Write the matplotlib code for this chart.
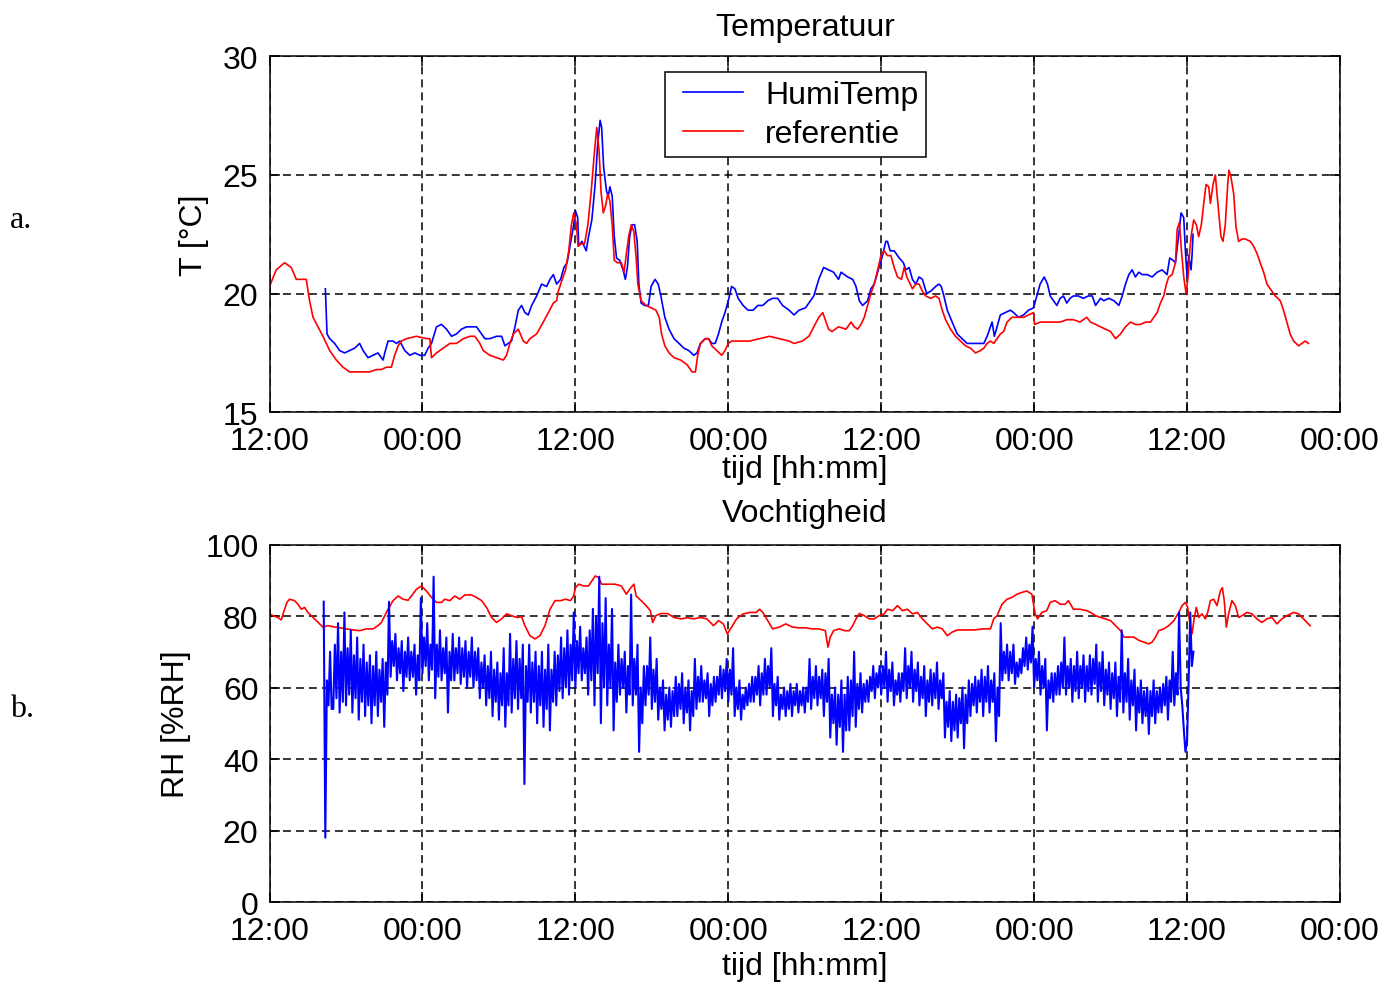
import numpy as np
import matplotlib
matplotlib.use("Agg")
import matplotlib.pyplot as plt
from matplotlib.legend_handler import HandlerLine2D

plt.rcParams['font.family'] = ['Liberation Sans', 'DejaVu Sans']

# time axis in hours since the first 12:00
tick_hours = [0, 12, 24, 36, 48, 60, 72, 84]
tick_labels = ['12:00', '00:00', '12:00', '00:00', '12:00', '00:00', '12:00', '00:00']
series_names = ['HumiTemp', 'referentie']

# reference temperature [degC]
ref_temp_t = [0.00, 0.52, 1.18, 1.70, 2.10, 2.62, 2.88, 3.14, 3.41, 3.80, 4.19, 4.72, 5.24, 5.76,
              6.29, 6.81, 7.34, 7.86, 8.38, 8.78, 9.17, 9.56, 9.82, 10.09, 10.35, 10.74, 11.53,
              12.31, 12.58, 12.71, 13.10, 13.62, 14.15, 14.67, 15.20, 15.72, 16.11, 16.50, 16.77,
              17.29, 17.81, 18.34, 18.60, 18.86, 19.13, 19.52, 19.91, 20.17, 20.43, 20.96, 21.48,
              21.88, 22.27, 22.53, 22.66, 22.97, 23.23, 23.48, 23.69, 23.87, 24.08, 24.21, 24.46,
              24.72, 24.98, 25.24, 25.50, 25.68, 25.86, 26.01, 26.19, 26.37, 26.53, 26.71, 26.89,
              27.05, 27.30, 27.61, 27.82, 28.03, 28.18, 28.39, 28.59, 28.77, 28.90, 29.16, 29.55,
              29.94, 30.32, 30.58, 30.76, 31.02, 31.35, 31.74, 32.26, 32.77, 33.16, 33.42, 33.60,
              33.81, 34.19, 34.45, 34.71, 35.10, 35.48, 35.74, 36.00, 36.26, 36.90, 37.68, 38.45,
              39.23, 40.00, 40.77, 41.16, 41.81, 42.32, 42.71, 43.10, 43.41, 43.61, 43.87, 44.13,
              44.65, 45.24, 45.63, 45.89, 46.15, 46.41, 46.67, 46.93, 47.19, 47.45, 47.77, 47.97,
              48.23, 48.49, 48.76, 49.02, 49.28, 49.59, 49.80, 50.01, 50.27, 50.45, 50.71, 50.97,
              51.23, 51.49, 51.88, 52.27, 52.53, 52.79, 53.05, 53.44, 53.83, 54.22, 54.61, 55.01,
              55.40, 55.79, 56.05, 56.31, 56.57, 56.83, 57.09, 57.35, 57.61, 57.87, 58.26, 58.65,
              59.17, 59.56, 59.95, 60.03, 60.47, 60.99, 61.52, 62.04, 62.56, 63.08, 63.60, 64.12,
              64.43, 64.82, 65.21, 65.60, 66.00, 66.39, 66.78, 67.17, 67.56, 67.95, 68.34, 68.74,
              69.13, 69.39, 69.65, 69.91, 70.17, 70.38, 70.56, 70.83, 71.09, 71.22, 71.40, 71.56,
              71.74, 71.92, 72.08, 72.21, 72.34, 72.52, 72.73, 72.91, 73.12, 73.31, 73.49, 73.70,
              73.83, 74.04, 74.22, 74.40, 74.66, 74.82, 75.00, 75.19, 75.29, 75.45, 75.66, 75.84,
              76.05, 76.31, 76.57, 76.96, 77.22, 77.48, 77.74, 78.01, 78.27, 78.53, 78.92, 79.31,
              79.57, 79.83, 80.09, 80.36, 80.75, 81.01, 81.27, 81.53]
ref_temp = [20.3, 21.0, 21.3, 21.1, 20.6, 20.6, 20.6, 19.7, 19.0, 18.6, 18.2, 17.6, 17.2, 16.9,
            16.7, 16.7, 16.7, 16.7, 16.8, 16.8, 16.9, 16.9, 17.4, 17.8, 18.0, 18.1, 18.2,
            18.1, 18.1, 17.3, 17.5, 17.7, 17.9, 17.9, 18.1, 18.2, 18.2, 17.9, 17.6,
            17.4, 17.3, 17.2, 17.4, 17.9, 18.3, 18.5, 18.0, 17.9, 18.1, 18.3, 18.8,
            19.2, 19.6, 19.7, 20.1, 20.6, 21.0, 21.8, 22.9, 23.4, 22.9, 22.0, 22.1,
            22.1, 22.9, 24.3, 26.0, 27.0, 26.0, 24.3, 23.4, 23.7, 24.2, 23.9, 22.9,
            21.4, 21.3, 21.3, 20.9, 21.8, 22.4, 22.9, 22.6, 21.5, 20.4, 19.7, 19.5,
            19.4, 19.3, 19.0, 18.3, 17.8, 17.5, 17.3, 17.2, 17.0, 16.7, 16.7, 17.4,
            17.9, 18.1, 18.1, 17.8, 17.6, 17.4, 17.6, 17.9, 18.0, 18.0, 18.0, 18.1,
            18.2, 18.1, 18.0, 17.9, 18.0, 18.2, 18.6, 19.0, 19.2, 18.9, 18.5, 18.4,
            18.6, 18.5, 18.8, 18.6, 18.5, 18.7, 19.0, 19.5, 20.0, 20.4, 21.1, 21.6,
            21.8, 21.6, 21.6, 21.1, 20.7, 20.6, 21.1, 20.7, 20.4, 20.2, 20.4, 20.4,
            20.1, 19.9, 19.8, 19.9, 19.8, 19.3, 18.9, 18.5, 18.2, 18.0, 17.8, 17.7,
            17.5, 17.6, 17.7, 17.9, 18.0, 17.9, 18.1, 18.3, 18.4, 18.8, 19.0, 19.0,
            19.0, 19.1, 19.2, 18.7, 18.8, 18.8, 18.8, 18.8, 18.9, 18.9, 18.8, 19.0,
            18.8, 18.7, 18.6, 18.5, 18.4, 18.1, 18.3, 18.6, 18.8, 18.7, 18.7, 18.8,
            18.8, 19.0, 19.2, 19.6, 19.9, 20.4, 20.7, 20.8, 21.3, 22.7, 23.0, 21.8,
            20.7, 20.0, 20.7, 21.8, 22.5, 23.1, 22.9, 22.4, 22.9, 23.8, 24.6, 24.5,
            23.8, 24.6, 25.0, 23.9, 22.4, 22.2, 22.9, 24.6, 25.2, 24.9, 24.2, 22.8,
            22.2, 22.3, 22.3, 22.2, 22.0, 21.7, 21.3, 20.9, 20.4, 20.2, 19.9, 19.7,
            19.3, 18.8, 18.3, 18.0, 17.8, 17.9, 18.0, 17.9]

# HumiTemp sensor temperature [degC]
humi_temp_t = [4.38, 4.51, 4.72, 5.11, 5.50, 5.89, 6.29, 6.68, 7.07, 7.34, 7.73, 8.12, 8.51, 8.91,
               9.04, 9.30, 9.69, 9.96, 10.22, 10.61, 11.00, 11.40, 11.79, 12.18, 12.44, 12.71,
               13.10, 13.49, 13.89, 14.28, 14.67, 15.06, 15.46, 15.85, 16.24, 16.64, 16.90, 17.29,
               17.81, 18.21, 18.47, 18.73, 18.99, 19.26, 19.52, 19.78, 20.04, 20.30, 20.57, 20.96,
               21.35, 21.74, 22.01, 22.27, 22.53, 22.84, 23.10, 23.35, 23.61, 23.87, 24.00, 24.18,
               24.26, 24.52, 24.85, 25.03, 25.29, 25.55, 25.75, 25.94, 26.06, 26.22, 26.45, 26.58,
               26.71, 26.89, 27.05, 27.23, 27.48, 27.74, 27.92, 28.08, 28.26, 28.44, 28.65, 28.85,
               28.98, 29.16, 29.42, 29.73, 29.94, 30.25, 30.50, 30.71, 31.02, 31.35, 31.74, 32.13,
               32.52, 32.90, 33.29, 33.55, 33.81, 34.19, 34.45, 34.71, 34.97, 35.23, 35.48, 35.74,
               36.00, 36.26, 36.52, 36.77, 37.16, 37.55, 37.94, 38.32, 38.71, 39.10, 39.48, 39.87,
               40.26, 40.77, 41.16, 41.55, 42.06, 42.45, 42.71, 43.10, 43.48, 43.87, 44.26, 44.65,
               44.85, 45.37, 45.76, 46.02, 46.28, 46.54, 46.93, 47.19, 47.45, 47.77, 48.10, 48.36,
               48.49, 48.70, 49.02, 49.41, 49.74, 49.93, 50.19, 50.45, 50.71, 50.97, 51.23, 51.57,
               51.88, 52.27, 52.53, 52.71, 52.92, 53.18, 53.57, 53.96, 54.35, 54.74, 55.14, 55.53,
               56.05, 56.31, 56.57, 56.70, 56.88, 57.09, 57.35, 57.74, 58.13, 58.39, 58.78, 59.17,
               59.56, 59.95, 60.21, 60.47, 60.79, 61.05, 61.26, 61.52, 61.78, 62.04, 62.30, 62.56,
               62.82, 63.08, 63.47, 63.86, 64.25, 64.56, 64.82, 65.21, 65.47, 65.86, 66.26, 66.65,
               66.91, 67.17, 67.43, 67.69, 67.95, 68.21, 68.48, 68.87, 69.26, 69.65, 70.04, 70.43,
               70.64, 70.90, 71.09, 71.35, 71.53, 71.74, 71.87, 72.00, 72.13, 72.31, 72.39, 72.47]
humi_temp = [20.2, 18.3, 18.1, 17.9, 17.6, 17.5, 17.6, 17.7, 17.9, 17.6, 17.3, 17.4, 17.5, 17.2,
             17.5, 18.0, 18.0, 17.9, 18.0, 17.6, 17.4, 17.5, 17.4, 17.4, 17.7, 17.9,
             18.6, 18.7, 18.5, 18.2, 18.3, 18.5, 18.6, 18.6, 18.6, 18.3, 18.1, 18.1,
             18.2, 18.2, 17.8, 17.9, 18.0, 18.6, 19.3, 19.5, 19.2, 19.1, 19.5, 19.9,
             20.4, 20.3, 20.6, 20.8, 20.4, 20.6, 21.1, 21.3, 22.1, 22.9, 23.5, 23.2,
             22.0, 22.2, 21.8, 22.4, 23.1, 24.6, 26.3, 27.3, 27.0, 25.3, 24.3, 24.1,
             24.5, 24.1, 22.4, 21.5, 21.4, 21.0, 20.6, 21.1, 22.4, 22.9, 22.9, 22.2,
             20.4, 19.6, 19.5, 19.5, 20.3, 20.6, 20.4, 19.9, 19.0, 18.5, 18.1, 17.9,
             17.7, 17.6, 17.4, 17.5, 17.9, 18.1, 18.1, 17.9, 17.9, 18.3, 18.8, 19.2,
             19.7, 20.3, 20.2, 19.8, 19.5, 19.3, 19.3, 19.5, 19.5, 19.7, 19.8, 19.8,
             19.5, 19.3, 19.1, 19.3, 19.4, 19.7, 19.9, 20.6, 21.1, 21.0, 20.9, 20.6,
             20.9, 20.7, 20.6, 20.3, 19.7, 19.5, 19.7, 20.2, 20.4, 21.0, 21.6, 22.2,
             22.2, 21.8, 21.8, 21.5, 21.3, 21.0, 21.1, 20.6, 20.4, 20.7, 20.6, 20.0,
             20.1, 20.3, 20.4, 20.3, 19.9, 19.3, 18.8, 18.3, 18.1, 17.9, 17.9, 17.9,
             17.9, 18.2, 18.6, 18.8, 18.2, 18.6, 19.1, 19.2, 19.3, 19.2, 19.0, 19.1,
             19.3, 19.4, 19.9, 20.4, 20.7, 20.4, 19.9, 19.7, 19.5, 19.8, 19.9, 19.6,
             19.8, 19.9, 19.9, 19.8, 19.9, 19.9, 19.5, 19.8, 19.7, 19.8, 19.7, 19.5,
             19.9, 20.4, 20.8, 21.0, 20.7, 20.9, 20.8, 20.8, 20.7, 20.9, 21.0, 20.8,
             21.5, 21.4, 21.3, 22.5, 23.4, 23.2, 21.8, 20.7, 21.6, 21.0, 21.6, 22.5]

# reference relative humidity [%RH]
ref_rh_t = [0.00, 0.26, 0.65, 0.92, 1.10, 1.36, 1.57, 1.96, 2.23, 2.49, 2.75, 3.01, 3.41, 3.80,
            4.19, 4.58, 4.98, 5.50, 6.03, 6.55, 7.07, 7.60, 8.12, 8.51, 8.78, 9.04, 9.30, 9.69,
            10.09, 10.48, 10.87, 11.13, 11.53, 11.92, 12.31, 12.71, 13.10, 13.49, 13.75, 14.15,
            14.54, 14.93, 15.33, 15.85, 16.24, 16.64, 17.03, 17.42, 17.81, 18.21, 18.60, 18.99,
            19.39, 19.78, 20.04, 20.43, 20.83, 21.22, 21.61, 22.01, 22.40, 22.84, 23.23, 23.61,
            23.87, 24.00, 24.26, 24.65, 25.03, 25.29, 25.55, 25.81, 26.06, 26.58, 27.10, 27.61,
            28.00, 28.26, 28.59, 28.77, 29.16, 29.55, 29.88, 30.06, 30.32, 30.71, 31.23, 31.74,
            32.26, 32.77, 33.29, 33.81, 34.32, 34.84, 35.23, 35.61, 35.92, 36.26, 36.65, 37.16,
            37.68, 38.19, 38.45, 38.71, 39.10, 39.48, 40.00, 40.52, 41.03, 41.55, 42.06, 42.58,
            43.10, 43.61, 43.82, 44.00, 44.26, 44.72, 45.11, 45.50, 45.76, 46.02, 46.28, 46.67,
            47.06, 47.45, 47.84, 48.23, 48.49, 48.89, 49.28, 49.67, 50.06, 50.45, 50.84, 51.23,
            51.62, 52.01, 52.40, 52.79, 53.18, 53.57, 53.96, 54.48, 55.27, 56.05, 56.57, 56.83,
            57.09, 57.48, 57.87, 58.26, 58.65, 59.04, 59.43, 59.82, 60.08, 60.27, 60.60, 60.99,
            61.26, 61.65, 62.04, 62.43, 62.69, 63.08, 63.60, 64.12, 64.43, 64.82, 65.21, 65.60,
            66.00, 66.39, 66.78, 67.04, 67.43, 67.82, 68.21, 68.61, 69.00, 69.26, 69.52, 69.78,
            70.17, 70.56, 70.96, 71.35, 71.61, 71.87, 72.05, 72.26, 72.39, 72.57, 72.73, 72.91,
            73.17, 73.44, 73.62, 73.83, 74.09, 74.35, 74.61, 74.77, 74.92, 75.08, 75.26, 75.52,
            75.79, 76.05, 76.31, 76.70, 77.09, 77.48, 77.87, 78.27, 78.66, 79.05, 79.44, 79.83,
            80.36, 80.75, 81.14, 81.40, 81.66]
ref_rh = [80.6, 80.1, 79.6, 78.9, 81.0, 83.8, 84.7, 84.3, 83.3, 81.9, 82.4, 81.0, 79.6, 78.2,
          76.9, 77.3, 77.0, 76.7, 76.4, 76.1, 75.9, 76.4, 76.4, 77.3, 78.2, 80.1, 81.9, 84.3,
          85.6, 84.7, 84.4, 85.6, 87.5, 88.4, 87.0, 85.2, 83.8, 83.8, 84.7, 84.3,
          85.6, 84.7, 85.9, 85.9, 85.2, 84.3, 82.4, 79.6, 78.2, 79.2, 80.6, 80.1,
          79.6, 79.8, 77.3, 74.5, 73.6, 74.5, 77.3, 81.9, 84.3, 84.3, 84.7, 84.3,
          85.6, 87.9, 88.9, 88.4, 88.4, 89.8, 91.2, 90.8, 88.9, 88.9, 88.9, 88.4,
          86.1, 87.5, 88.9, 85.6, 84.3, 82.9, 81.5, 78.2, 80.1, 80.7, 80.7, 79.6,
          79.2, 79.5, 79.2, 79.6, 79.2, 77.3, 78.7, 77.8, 75.0, 76.9, 79.2, 80.6,
          81.0, 81.0, 81.9, 81.0, 78.7, 76.4, 76.9, 77.8, 76.9, 76.7, 76.7, 76.4,
          76.4, 75.9, 71.3, 74.1, 75.9, 76.4, 75.9, 75.9, 77.3, 79.2, 80.7, 80.1,
          79.2, 79.2, 80.1, 80.6, 81.9, 81.5, 82.9, 81.5, 81.9, 80.6, 81.0, 79.2,
          77.8, 76.4, 76.9, 76.4, 74.5, 75.5, 76.1, 76.1, 76.1, 76.4, 76.4, 79.2,
          80.1, 83.3, 84.7, 85.2, 86.1, 86.6, 87.0, 86.1, 80.6, 79.2, 81.0, 81.5,
          83.8, 84.3, 83.3, 83.3, 84.3, 81.9, 81.9, 81.5, 81.0, 80.1, 79.6, 79.2,
          78.7, 77.3, 75.9, 74.1, 74.1, 74.1, 73.2, 72.7, 72.2, 72.7, 74.1, 75.9,
          76.4, 77.3, 78.7, 81.0, 82.9, 83.8, 82.4, 76.9, 75.0, 79.6, 82.4, 79.6,
          80.6, 79.2, 81.0, 84.3, 84.7, 82.9, 87.0, 87.9, 84.3, 76.9, 80.6, 84.3,
          82.9, 79.6, 80.1, 81.0, 80.6, 79.2, 78.2, 79.2, 79.6, 77.8, 79.2, 80.1,
          81.0, 80.6, 79.2, 78.2, 77.3]

# HumiTemp sensor relative humidity [%RH], one sample every 7.5 minutes
humi_rh_start = 4.25
humi_rh_step = 0.125
humi_rh = [
    84, 18, 62, 55, 70, 54,
    54, 72, 57, 78, 53, 70, 56, 81,   55, 71, 58, 76, 53, 69, 57, 74,
    51, 68, 56, 72, 52, 67, 55, 69,   50, 66, 55, 70, 52, 65, 56, 68,
    49, 67, 58, 84, 63, 73, 66, 75,   62, 71, 64, 73, 59, 70, 63, 74,
    62, 70, 63, 72, 58, 69, 62, 85,   64, 74, 66, 78, 62, 72, 65, 91,
    57, 72, 63, 76, 62, 71, 64, 74,   53, 70, 62, 75, 62, 71, 64, 74,
    61, 71, 63, 73, 60, 70, 63, 74,   60, 70, 62, 71, 57, 67, 60, 69,
    55, 66, 57, 70, 52, 65, 56, 67,   51, 64, 55, 71, 49, 64, 55, 75,
    53, 68, 57, 73, 54, 68, 57, 72,   33, 66, 56, 72, 53, 67, 56, 70,
    50, 66, 55, 70, 49, 65, 54, 72,   48, 65, 56, 70, 55, 69, 59, 74,
    57, 71, 60, 76, 58, 72, 62, 81,   60, 73, 64, 77, 62, 71, 64, 74,
    58, 76, 62, 82, 55, 80, 64, 91,   50, 78, 60, 85, 55, 72, 60, 82,
    48, 67, 56, 72, 58, 68, 60, 70,   53, 66, 58, 86, 55, 68, 58, 72,
    42, 60, 50, 66, 55, 66, 58, 74,   54, 65, 56, 68, 51, 60, 54, 62,
    48, 58, 51, 60, 49, 59, 52, 63,   52, 61, 54, 64, 50, 60, 53, 62,
    48, 59, 52, 68, 54, 63, 56, 66,   56, 62, 57, 64, 52, 61, 55, 63,
    56, 63, 58, 66, 57, 65, 59, 68,   56, 65, 58, 71, 52, 60, 54, 62,
    51, 58, 54, 60, 55, 61, 56, 63,   56, 63, 58, 66, 55, 64, 58, 68,
    58, 66, 60, 71, 52, 61, 55, 63,   51, 58, 54, 60, 52, 59, 54, 61,
    52, 59, 55, 61, 53, 59, 55, 60,   53, 60, 56, 68, 54, 63, 57, 66,
    55, 63, 57, 65, 52, 64, 56, 68,   46, 58, 50, 60, 44, 58, 49, 62,
    42, 58, 48, 63, 48, 62, 52, 70,   49, 61, 54, 64, 53, 61, 56, 62,
    56, 63, 59, 66, 57, 64, 60, 66,   58, 66, 60, 70, 56, 65, 59, 67,
    55, 62, 58, 64, 56, 64, 59, 71,   57, 66, 60, 70, 56, 65, 59, 67,
    55, 63, 57, 66, 52, 62, 56, 65,   55, 64, 57, 67, 54, 62, 57, 64,
    46, 56, 49, 59, 45, 56, 48, 58,   46, 57, 50, 60, 43, 58, 50, 62,
    52, 61, 55, 63, 53, 62, 56, 65,   52, 63, 56, 66, 53, 62, 56, 64,
    45, 60, 52, 78, 62, 70, 64, 72,   62, 70, 64, 72, 61, 67, 63, 68,
    64, 71, 66, 74, 65, 72, 67, 77,   60, 68, 62, 70, 58, 66, 60, 68,
    48, 62, 57, 64, 56, 64, 58, 66,   58, 67, 60, 74, 58, 66, 60, 68,
    56, 66, 59, 70, 57, 66, 60, 69,   56, 66, 59, 69, 58, 68, 61, 72,
    56, 67, 59, 70, 55, 65, 58, 67,   54, 64, 57, 67, 52, 63, 56, 76,
    53, 64, 56, 68, 51, 62, 55, 65,   48, 60, 53, 62, 50, 59, 52, 60,
    47, 59, 52, 62, 50, 59, 53, 60,   53, 61, 55, 63, 51, 62, 56, 70,
    55, 64, 58, 81, 60, 55, 48, 42,
    45, 62, 81, 66, 70]

humi_rh_t = humi_rh_start + humi_rh_step * np.arange(len(humi_rh))

BLUE = '#0000ff'
RED = '#ff0000'
FS = 23


class InsetLineHandler(HandlerLine2D):
    """Legend line that starts a bit to the right of the handle box."""

    def __init__(self, inset, **kw):
        super().__init__(**kw)
        self.inset = inset

    def get_xdata(self, legend, xdescent, ydescent, width, height, fontsize):
        xdata, xmark = super().get_xdata(legend, xdescent, ydescent, width, height, fontsize)
        xdata = np.asarray(xdata, dtype=float).copy()
        xdata[0] += self.inset * fontsize
        return xdata, xmark


fig = plt.figure(figsize=(13.88, 9.87), dpi=100)
ax1 = fig.add_axes([0.1942, 0.5813, 0.7712, 0.3607])
ax2 = fig.add_axes([0.1942, 0.0851, 0.7712, 0.3622])


def style_axes(ax, ylim, yticks, ylabel, title, title_pad, xlabel_pad):
    ax.set_xlim(0, 84)
    ax.set_ylim(*ylim)
    ax.set_xticks(tick_hours)
    ax.set_xticklabels(tick_labels)
    ax.set_yticks(yticks)
    ax.tick_params(direction='in', length=7, width=1.1, top=True, right=True,
                   labelsize=FS, colors='black')
    ax.tick_params(axis='x', pad=10)
    ax.tick_params(axis='y', pad=8)
    ax.grid(True, color='black', linestyle=(0, (5.2, 3.3)), linewidth=1.1)
    for s in ax.spines.values():
        s.set_linewidth(1.1)
        s.set_color('black')
    ax.set_xlabel('tijd [hh:mm]', fontsize=FS, labelpad=xlabel_pad)
    ax.set_ylabel(ylabel, fontsize=FS, labelpad=10)
    ax.set_title(title, fontsize=FS, pad=title_pad)


l_humi, = ax1.plot(humi_temp_t, humi_temp, color=BLUE, lw=1.2, label=series_names[0])
l_ref, = ax1.plot(ref_temp_t, ref_temp, color=RED, lw=1.2, label=series_names[1])
style_axes(ax1, (15, 30), [15, 20, 25, 30], 'T [°C]', 'Temperatuur', 15, -1.5)

leg = ax1.legend(loc='upper left', bbox_to_anchor=(0.3695, 0.955), fontsize=FS,
                 frameon=True, fancybox=False, edgecolor='black', framealpha=1,
                 handlelength=2.19, handletextpad=0.69, borderpad=0.25,
                 labelspacing=0.28, borderaxespad=0,
                 handler_map={l_humi: InsetLineHandler(0.31),
                              l_ref: InsetLineHandler(0.31)})
leg.get_frame().set_linewidth(1.1)

ax2.plot(ref_rh_t, ref_rh, color=RED, lw=1.2)
ax2.plot(humi_rh_t, humi_rh, color=BLUE, lw=1.5)
style_axes(ax2, (0, 100), [0, 20, 40, 60, 80, 100], 'RH [%RH]', 'Vochtigheid', 17, 4)

fig.text(0.0072, 0.777, 'a.', fontsize=23, family='Liberation Serif', va='center', ha='left')
fig.text(0.0072, 0.2807, 'b.', fontsize=23, family='Liberation Serif', va='center', ha='left')

fig.savefig('out.png', dpi=100)
